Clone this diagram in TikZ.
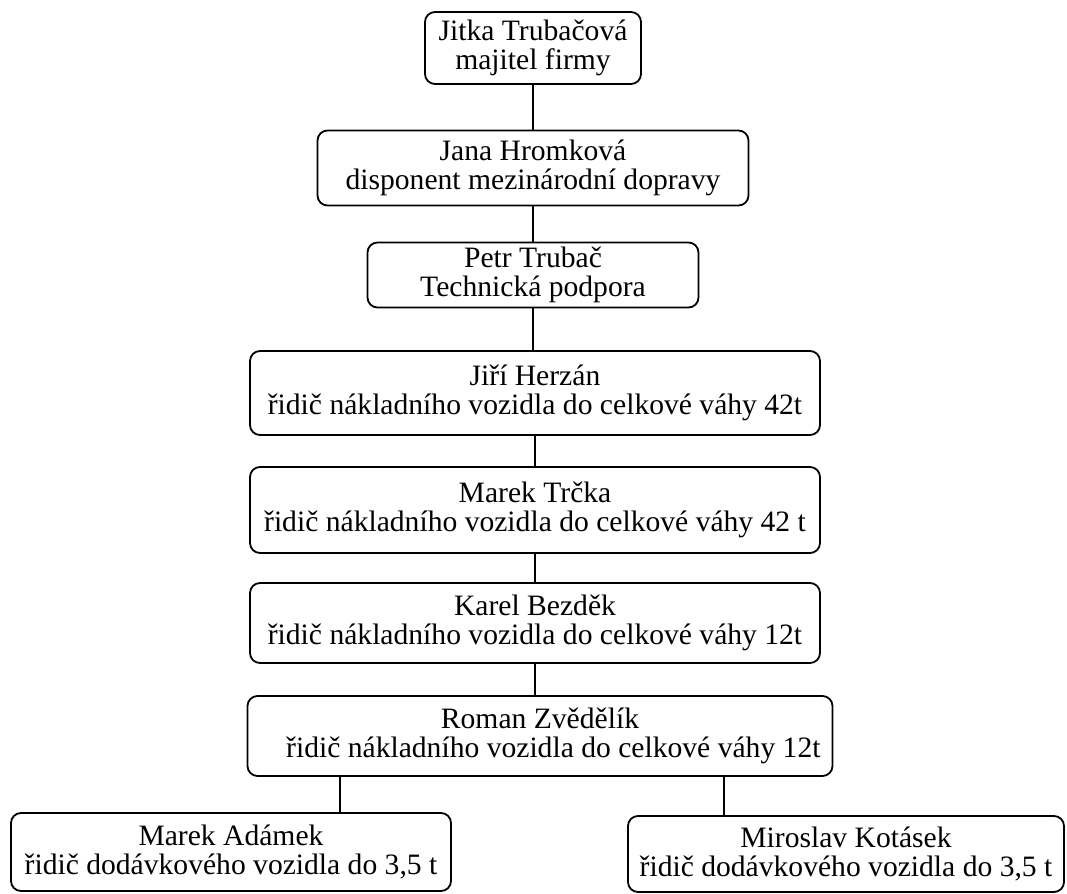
\documentclass[tikz,border=0pt]{standalone}
\usepackage{fontspec}
\setmainfont{Liberation Serif}
\newcommand{\boxColor}{black}
\newcommand{\lineColor}{black}

\begin{document}
\begin{tikzpicture}[
            x=0.5pt, y=-0.5pt,
            every node/.append style={draw=\boxColor, line width=0.9pt, rounded corners=5pt, align=center, inner sep=2pt, font=\fontsize{14.8pt}{14.2pt}\selectfont},
            spoj/.style={draw=\lineColor, line width=0.7pt}
        ]
        \useasboundingbox (0,0) rectangle (1067,894);
        \node[minimum width=108pt, minimum height=36pt] (jitka) at (533,48) {Jitka Trubačová\\majitel firmy};
        \node[minimum width=215.5pt, minimum height=37.5pt] (jana) at (533,168) {Jana Hromková\\disponent mezinárodní dopravy};
        \node[minimum width=165.5pt, minimum height=32.5pt] (petr) at (533,275) {Petr Trubač\\Technická podpora};
        \node[minimum width=285pt, minimum height=42pt] (jiri) at (535,393) {Jiří Herzán\\řidič nákladního vozidla do celkové váhy 42t};
        \node[minimum width=285pt, minimum height=43pt] (marek) at (535,510) {Marek Trčka\\řidič nákladního vozidla do celkové váhy 42 t};
        \node[minimum width=285pt, minimum height=40pt] (karel) at (535,623) {Karel Bezděk\\řidič nákladního vozidla do celkové váhy 12t};
        \node[minimum width=292.5pt, minimum height=40pt] (roman) at (540,736) {Roman Zvědělík\\\hspace*{0.9em}řidič nákladního vozidla do celkové váhy 12t};
        \node[minimum width=220pt, minimum height=39pt] (adamek) at (231,852) {Marek Adámek\\řidič dodávkového vozidla do 3,5 t};
        \node[minimum width=218pt, minimum height=38pt] (kotasek) at (846,854) {Miroslav Kotásek\\řidič dodávkového vozidla do 3,5 t};

        \draw[spoj] (jitka.south) -- (jitka.south |- jana.north);
        \draw[spoj] (jana.south) -- (jana.south |- petr.north);
        \draw[spoj] (petr.south) -- (petr.south |- jiri.north);
        \draw[spoj] (jiri.south) -- (jiri.south |- marek.north);
        \draw[spoj] (marek.south) -- (marek.south |- karel.north);
        \draw[spoj] (karel.south) -- (karel.south |- roman.north);
        \draw[spoj] ([xshift=-100pt]roman.south) -- ([xshift=-100pt]roman.south |- adamek.north);
        \draw[spoj] ([xshift=92pt]roman.south) -- ([xshift=92pt]roman.south |- kotasek.north);
    \end{tikzpicture}
\end{document}
